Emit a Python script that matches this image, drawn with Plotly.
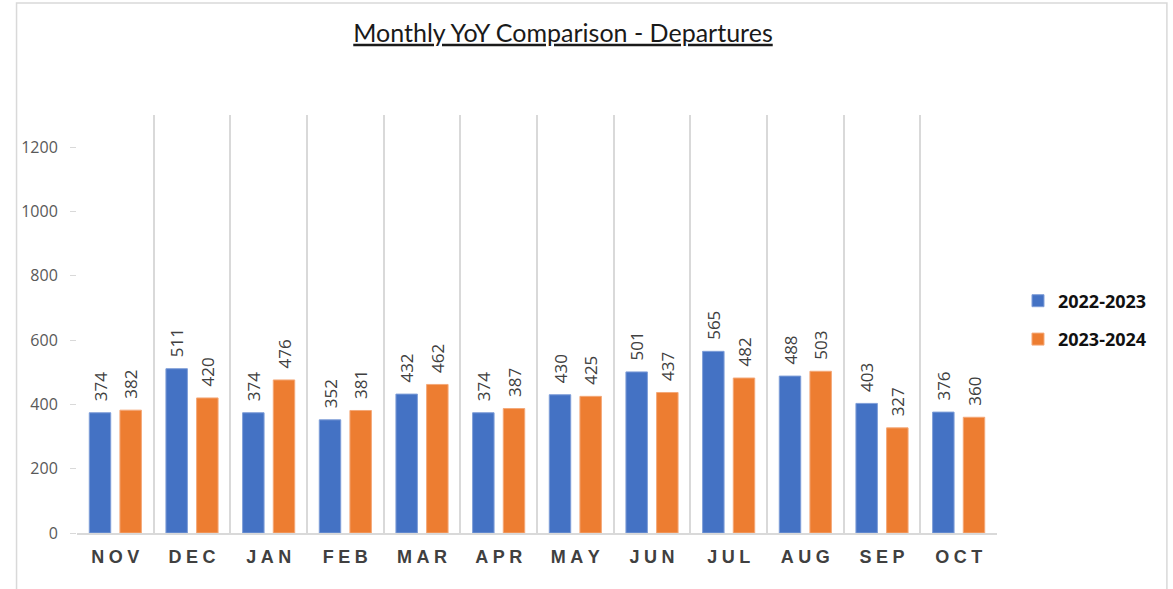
import plotly.graph_objects as go

months = ["NOV", "DEC", "JAN", "FEB", "MAR", "APR", "MAY", "JUN", "JUL", "AUG", "SEP", "OCT"]
series_names = ["2022-2023", "2023-2024"]
values_2223 = [374, 511, 374, 352, 432, 374, 430, 501, 565, 488, 403, 376]
values_2324 = [382, 420, 476, 381, 462, 387, 425, 437, 482, 503, 327, 360]
y_ticks = [0, 200, 400, 600, 800, 1000, 1200]
colors = ["#4472C4", "#ED7D31"]
edge_colors = ["#7F9ED8", "#F4A878"]

tick_text = ["\u2005".join(list(m)) for m in months]

fig = go.Figure()
for i, (name, vals, c, ec) in enumerate(zip(series_names, [values_2223, values_2324], colors, edge_colors)):
    fig.add_trace(go.Bar(
        x=months, y=vals, name=name, legendgroup=f"g{i}",
        marker=dict(color=c, line=dict(color=ec, width=1)),
        text=["\u2002" + str(v) for v in vals], textposition="outside", textangle=-90,
        textfont=dict(family="Open Sans", size=17, color="#404040"),
        constraintext="none", cliponaxis=False, hoverinfo="x+y+name",
    ))

L, R, T, B = 76.5, 176, 115, 56
W, H = 1173, 589
pw = W - L - R
ph = H - T - B

def px_to_paper_x(px):
    return (px - L) / pw

def px_to_paper_y(py):
    return (H - B - py) / ph

fig.update_layout(
    width=W, height=H,
    margin=dict(l=L, r=R, t=T, b=B),
    paper_bgcolor="white", plot_bgcolor="white",
    barmode="group", bargap=0.2, bargroupgap=0.3,
    title=dict(text="<u>Monthly YoY Comparison - Departures</u>",
               font=dict(family="Lato", size=25, color="#1a1a1a"),
               x=563 / W, xref="container", xanchor="center",
               y=1 - 33 / H, yref="container", yanchor="middle"),
    xaxis=dict(
        type="category", tickson="boundaries", showgrid=True,
        gridcolor="#D9D9D9", gridwidth=1.5,
        tickvals=months, ticktext=tick_text, ticks="",
        tickfont=dict(family="Liberation Sans", size=18, color="#404040", weight="bold"),
        ticklabelstandoff=7,
        showline=True, linecolor="#D9D9D9", linewidth=1.5,
        fixedrange=True,
    ),
    yaxis=dict(
        range=[0, 1300], tickvals=y_ticks, showgrid=False, zeroline=False,
        ticks="outside", ticklen=6, tickcolor="#D9D9D9",
        tickfont=dict(family="Open Sans", size=16, color="#595959"),
        ticklabelstandoff=9,
        showline=False,
    ),
    legend=dict(
        x=px_to_paper_x(1018), y=px_to_paper_y(320), xanchor="left", yanchor="middle",
        font=dict(family="Open Sans", size=18, color="#111111", weight="bold"),
        itemwidth=30, tracegroupgap=12,
    ),
    showlegend=True,
)

fig.add_shape(type="rect", xref="paper", yref="paper",
              x0=px_to_paper_x(16), x1=px_to_paper_x(1167),
              y0=px_to_paper_y(600), y1=px_to_paper_y(3),
              line=dict(color="#D9D9D9", width=1.5), fillcolor="rgba(0,0,0,0)", layer="below")

fig.write_html("out.html", config={"displayModeBar": False},
               post_script="document.body.style.margin='0px';document.body.style.overflow='hidden';")
